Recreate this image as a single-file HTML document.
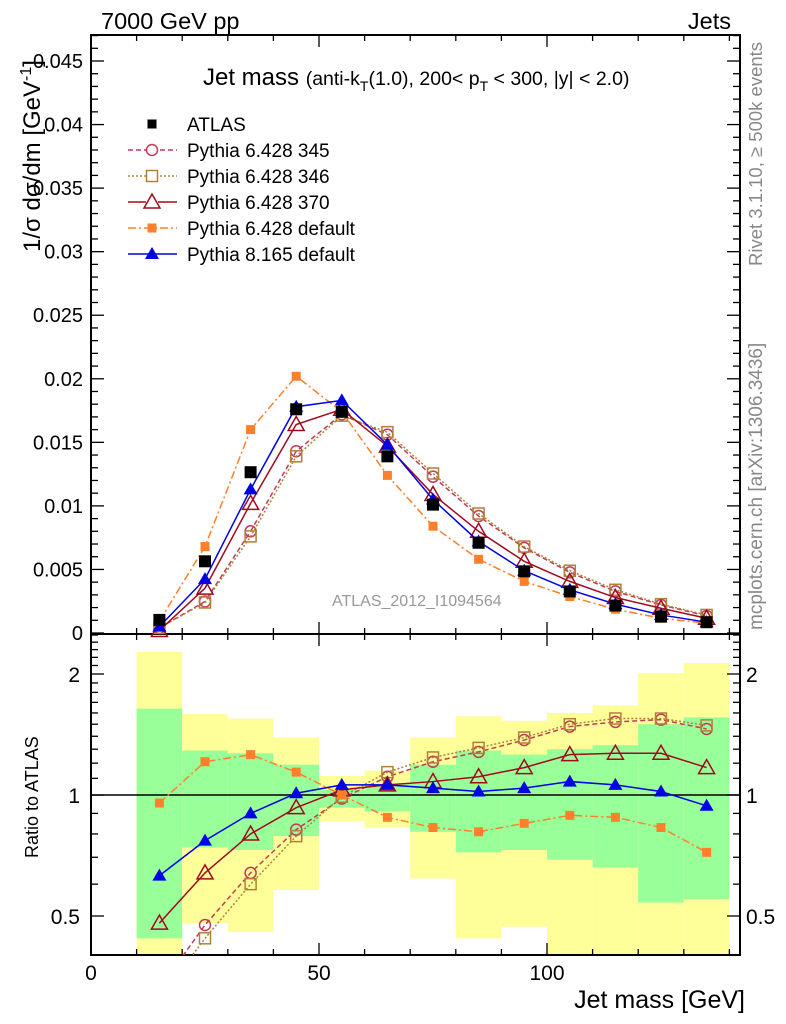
<!DOCTYPE html>
<html><head><meta charset="utf-8">
<style>
html,body{margin:0;padding:0;background:#fff;}
svg{display:block;font-family:"Liberation Sans",sans-serif;}
</style></head>
<body>
<svg id="chart" width="786" height="1024" viewBox="0 0 786 1024" xmlns="http://www.w3.org/2000/svg">
  <g id="bands"></g>
  <g id="axes"></g>
  <g id="series"></g>
  <text x="101" y="29" font-size="23.5">7000 GeV pp</text>
  <text x="731" y="29" font-size="23.5" text-anchor="end">Jets</text>
  <text transform="translate(762,266) rotate(-90)" font-size="18.5" fill="#888">Rivet 3.1.10, ≥ 500k events</text>
  <text transform="translate(762,630) rotate(-90)" font-size="19" fill="#888">mcplots.cern.ch [arXiv:1306.3436]</text>
  <text transform="translate(40,252) rotate(-90)" font-size="24">1/σ dσ/dm [GeV<tspan dy="-9" font-size="16">-1</tspan><tspan dy="9">]</tspan></text>
  <text transform="translate(38,858) rotate(-90)" font-size="18">Ratio to ATLAS</text>
  <text x="745" y="1008" font-size="25" text-anchor="end">Jet mass [GeV]</text>
  <text x="203" y="85" font-size="24">Jet mass <tspan font-size="19.5">(anti-k<tspan dy="6" font-size="14">T</tspan><tspan dy="-6">(1.0), 200&lt; p</tspan><tspan dy="6" font-size="14">T</tspan><tspan dy="-6"> &lt; 300, |y| &lt; 2.0)</tspan></tspan></text>
  <text x="332" y="606" font-size="16" fill="#999">ATLAS_2012_I1094564</text>
  <g id="legend"></g>
</svg>
<script>
const xCenters = [15,25,35,45,55,65,75,85,95,105,115,125,135];
const atlas = [0.00103,0.00564,0.01265,0.0176,0.0174,0.0139,0.0101,0.0071,0.00485,0.00327,0.00216,0.00129,0.00085];
const p345 = [0.0004,0.00248,0.0080,0.0143,0.0172,0.0156,0.0123,0.0092,0.0067,0.00477,0.00327,0.00221,0.00134];
const p346 = [0.0004,0.0024,0.0076,0.0139,0.0171,0.0158,0.01255,0.0094,0.0068,0.0049,0.0034,0.00227,0.00142];
const p370 = [0.0002,0.00353,0.0102,0.0164,0.0176,0.0147,0.0109,0.0080,0.00564,0.00406,0.00279,0.00195,0.00116];
const p6def = [0.00095,0.0068,0.0160,0.0202,0.0174,0.0124,0.0084,0.0058,0.00406,0.00287,0.00187,0.00116,0.00077];
const p8def = [0.0005,0.00424,0.0113,0.0178,0.0183,0.0148,0.0105,0.0072,0.0049,0.0034,0.00227,0.00142,0.00085];
const r345 = [0.33,0.475,0.64,0.82,0.98,1.11,1.21,1.28,1.37,1.48,1.52,1.54,1.46];
const r346 = [0.31,0.44,0.60,0.79,0.99,1.14,1.24,1.31,1.39,1.50,1.55,1.55,1.49];
const r370 = [0.48,0.64,0.80,0.93,1.03,1.06,1.08,1.11,1.17,1.26,1.27,1.27,1.17];
const r6def = [0.955,1.21,1.26,1.14,1.0,0.88,0.83,0.81,0.85,0.89,0.88,0.83,0.72];
const r8def = [0.63,0.77,0.90,1.01,1.06,1.06,1.04,1.02,1.04,1.08,1.06,1.02,0.94];
const binEdges = [10,20,30,40,50,60,70,80,90,100,110,120,130,140];
const yellowHi = [2.27,1.59,1.55,1.39,1.115,1.15,1.39,1.57,1.53,1.60,1.67,2.01,2.13];
const greenHi = [1.64,1.29,1.27,1.19,1.03,1.065,1.19,1.29,1.26,1.30,1.33,1.50,1.56];
const greenLo = [0.44,0.74,0.73,0.79,0.93,0.91,0.81,0.72,0.73,0.69,0.66,0.54,0.55];
const yellowLo = [0.38,0.48,0.456,0.58,0.86,0.83,0.62,0.44,0.47,0.38,0.38,0.38,0.38];
const mainTicks = [0,0.005,0.01,0.015,0.02,0.025,0.03,0.035,0.04,0.045];
const mainTickLabels = ["0","0.005","0.01","0.015","0.02","0.025","0.03","0.035","0.04","0.045"];
const xTicks = [0,50,100];
const ratioTicks = [0.5,1,2];

const NS="http://www.w3.org/2000/svg";
const L=91,R=740,MT=35,MB=634,RT=634,RB=955;
const xs=v=>L+v*4.56;
const ym=v=>633-v*12711;
const yr=r=>795-121*Math.log2(r);
const clampR=y=>Math.max(RT,Math.min(RB,y));
function mk(tag,attrs,parent){const e=document.createElementNS(NS,tag);for(const k in attrs)e.setAttribute(k,attrs[k]);parent.appendChild(e);return e;}
const axes=document.getElementById('axes'),bands=document.getElementById('bands'),series=document.getElementById('series'),legend=document.getElementById('legend');

for(let i=0;i<binEdges.length-1;i++){
  const x0=xs(binEdges[i]),x1=xs(binEdges[i+1]);
  const yb=mk('rect',{x:x0,y:clampR(yr(yellowHi[i])),width:x1-x0,height:clampR(yr(yellowLo[i]))-clampR(yr(yellowHi[i])),fill:'#ffff99'},bands);
  
  
  const gb=mk('rect',{x:x0,y:clampR(yr(greenHi[i])),width:x1-x0,height:clampR(yr(greenLo[i]))-clampR(yr(greenHi[i])),fill:'#99ff99'},bands);
  
  
}

const f1=mk('rect',{x:L,y:MT,width:R-L,height:MB-MT,fill:'none',stroke:'#000','stroke-width':2},axes);


const f2=mk('rect',{x:L,y:RT,width:R-L,height:RB-RT,fill:'none',stroke:'#000','stroke-width':2},axes);


const one=mk('line',{x1:L,x2:R,y1:yr(1),y2:yr(1),stroke:'#000','stroke-width':1.5},axes);



for(let v=0;v<=140;v+=10){
  const big=xTicks.includes(v),len=big?12:6,x=xs(v);
  [[MB,-1],[MT,1],[RB,-1],[RT,1]].forEach(([y,d])=>{mk('line',{x1:x,x2:x,y1:y,y2:y+d*len,stroke:'#000','stroke-width':1.3},axes);});
}
xTicks.forEach(v=>{const t=mk('text',{x:xs(v),y:980,'font-size':21,'text-anchor':'middle'},axes);t.textContent=v;

});
for(let k=0;k<=47;k++){const v=k*0.001,y=ym(v);if(y<MT)continue;const big=k%5===0,len=big?13:7;
  mk('line',{x1:L,x2:L+len,y1:y,y2:y,stroke:'#000','stroke-width':1.3},axes);
  mk('line',{x1:R,x2:R-len,y1:y,y2:y,stroke:'#000','stroke-width':1.3},axes);}
mainTicks.forEach((v,i)=>{const t=mk('text',{x:83,y:ym(v)+7,'font-size':20,'text-anchor':'end'},axes);t.textContent=mainTickLabels[i];

});
for(let r=0.4;r<=2.55;r+=0.1){const y=yr(r);if(y<RT||y>RB)continue;const big=ratioTicks.some(t=>Math.abs(t-r)<1e-6),len=big?13:7;
  mk('line',{x1:L,x2:L+len,y1:y,y2:y,stroke:'#000','stroke-width':1.3},axes);
  mk('line',{x1:R,x2:R-len,y1:y,y2:y,stroke:'#000','stroke-width':1.3},axes);}
ratioTicks.forEach(v=>{const t=mk('text',{x:80,y:yr(v)+8,'font-size':21,'text-anchor':'end'},axes);t.textContent=v;


const t2=mk('text',{x:746,y:yr(v)+8,'font-size':21},axes);t2.textContent=v;

});

function marker(type,x,y,color,g){
  if(type==='sq')return mk('rect',{x:x-6,y:y-6,width:12,height:12,fill:color},g);
  if(type==='sqs')return mk('rect',{x:x-4.5,y:y-4.5,width:9,height:9,fill:color},g);
  if(type==='osq')return mk('rect',{x:x-5.5,y:y-5.5,width:11,height:11,fill:'none',stroke:color,'stroke-width':1.5},g);
  if(type==='oc')return mk('circle',{cx:x,cy:y,r:5.5,fill:'none',stroke:color,'stroke-width':1.5},g);
  if(type==='otri')return mk('polygon',{points:`${x},${y-8} ${x-8},${y+6} ${x+8},${y+6}`,fill:'none',stroke:color,'stroke-width':1.5},g);
  if(type==='tri')return mk('polygon',{points:`${x},${y-7} ${x-7},${y+5} ${x+7},${y+5}`,fill:color},g);
}
const defs=[
 {name:'pythia-6428-345',main:p345,ratio:r345,color:'#c03c55',dash:'5,3',m:'oc',label:'Pythia 6.428 345'},
 {name:'pythia-6428-346',main:p346,ratio:r346,color:'#b0803a',dash:'2,2',m:'osq',label:'Pythia 6.428 346'},
 {name:'pythia-6428-370',main:p370,ratio:r370,color:'#a00a1e',dash:'',m:'otri',label:'Pythia 6.428 370'},
 {name:'pythia-6428-default',main:p6def,ratio:r6def,color:'#ff7f2a',dash:'8,3,2,3',m:'sqs',label:'Pythia 6.428 default'},
 {name:'pythia-8165-default',main:p8def,ratio:r8def,color:'#0000e6',dash:'',m:'tri',label:'Pythia 8.165 default'}
];
const clipR=mk('clipPath',{id:'clipR'},series);mk('rect',{x:L,y:RT,width:R-L,height:RB-RT},clipR);
defs.forEach(d=>{
  const g=mk('g',{},series);
  
  
  const pts=xCenters.map((x,i)=>xs(x)+','+ym(d.main[i])).join(' ');
  const pl=mk('polyline',{points:pts,fill:'none',stroke:d.color,'stroke-width':1.5,'stroke-dasharray':d.dash},g);
  
  
  xCenters.forEach((x,i)=>{const m=marker(d.m,xs(x),ym(d.main[i]),d.color,g);
    
    });
  const gr=mk('g',{'clip-path':'url(#clipR)'},series);
  
  
  const rp=xCenters.map((x,i)=>xs(x)+','+yr(d.ratio[i])).join(' ');
  const rl=mk('polyline',{points:rp,fill:'none',stroke:d.color,'stroke-width':1.5,'stroke-dasharray':d.dash},gr);
  
  
  xCenters.forEach((x,i)=>{const m=marker(d.m,xs(x),yr(d.ratio[i]),d.color,gr);
    
    });
});
const ga=mk('g',{},series);


xCenters.forEach((x,i)=>{const m=marker('sq',xs(x),ym(atlas[i]),'#000',ga);
  
  });

const rows=[{m:'sq',color:'#000',dash:null,label:'ATLAS'}].concat(defs.map(d=>({m:d.m,color:d.color,dash:d.dash,label:d.label})));
rows.forEach((r,i)=>{
  const y=124+i*26;
  const g=mk('g',{},legend);
  
  
  if(r.dash!==null)mk('line',{x1:128,x2:177,y1:y,y2:y,stroke:r.color,'stroke-width':1.5,'stroke-dasharray':r.dash},g);
  if(r.dash!==null && r.m!=='sqs' && r.m!=='tri')mk('rect',{x:146,y:y-7,width:12,height:14,fill:'#fff'},g);
  marker(r.m==='sq'?'sqs':r.m,152,y,r.color,g);
  const t=mk('text',{x:187,y:y+7,'font-size':19},g);t.textContent=r.label;
});
</script>
</body></html>
